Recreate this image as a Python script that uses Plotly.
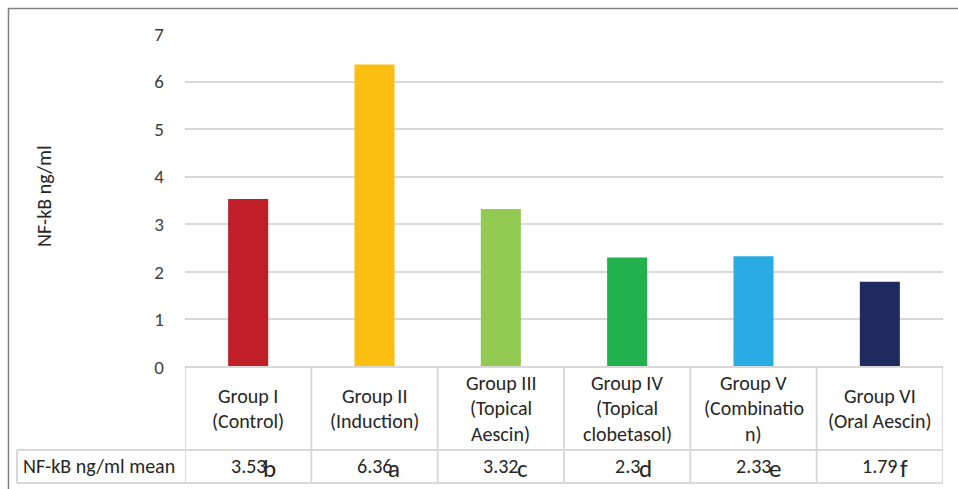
import plotly.graph_objects as go

categories = ["Group I<br>(Control)", "Group II<br>(Induction)", "Group III<br>(Topical<br>Aescin)",
              "Group IV<br>(Topical<br>clobetasol)", "Group V<br>(Combinatio<br>n)", "Group VI<br>(Oral Aescin)"]
values = [3.53, 6.36, 3.32, 2.3, 2.33, 1.79]
letters = ["b", "a", "c", "d", "e", "f"]
colors = ["#C01F28", "#FBBF12", "#92CA52", "#21B04C", "#29ACE3", "#1F2A5E"]
row_label = "NF-kB ng/ml mean"
y_title = "NF-kB ng/ml"
y_ticks = [0, 1, 2, 3, 4, 5, 6, 7]

FONT = "Carlito, Lato, sans-serif"
TXT = "#262626"
GRID = "#D9D9D9"

W, H = 958, 489
L, R, T, B = 185, 943, 34, 367  # plot area pixel box


def px_x(p):
    return (p - L) / (R - L)


def px_y(p):
    return (B - p) / (B - T)


xs = list(range(len(categories)))

fig = go.Figure()
fig.add_trace(go.Bar(x=xs, y=values, marker=dict(color=colors, line=dict(width=0)),
                     hoverinfo="skip"))

shapes = []
# outer frame
shapes.append(dict(type="rect", xref="paper", yref="paper",
                   x0=px_x(8.5), x1=px_x(975), y0=px_y(8.5), y1=px_y(500),
                   line=dict(color="#7F7F7F", width=1.5), layer="below"))
# table lines
tl = dict(color=GRID, width=2)
shapes.append(dict(type="line", xref="x", yref="paper", x0=-0.5, x1=5.5,
                   y0=0, y1=0, line=tl))
shapes.append(dict(type="line", xref="paper", yref="paper", x0=px_x(17), x1=1,
                   y0=px_y(450), y1=px_y(450), line=tl))
shapes.append(dict(type="line", xref="paper", yref="paper", x0=px_x(17), x1=1,
                   y0=px_y(483), y1=px_y(483), line=tl))
shapes.append(dict(type="line", xref="paper", yref="paper", x0=px_x(17), x1=px_x(17),
                   y0=px_y(450), y1=px_y(483), line=tl))
for i in range(len(categories) + 1):
    shapes.append(dict(type="line", xref="x", yref="paper", x0=i - 0.5, x1=i - 0.5,
                       y0=0, y1=px_y(483), line=tl))

annotations = []
for i, cat in enumerate(categories):
    lines = cat.split("<br>")
    n = len(lines)
    for j, ln in enumerate(lines):
        yc = 408.5 + (j - (n - 1) / 2) * 25.5
        annotations.append(dict(x=i, y=px_y(yc), xref="x", yref="paper", text=ln,
                                showarrow=False, xanchor="center", yanchor="middle",
                                font=dict(family=FONT, size=20, color=TXT)))

letter_shift = [21, 19, 22, 18, 21, 24]
for i, (v, lt) in enumerate(zip(values, letters)):
    annotations.append(dict(x=i, y=px_y(466), xref="x", yref="paper", text=str(v),
                            showarrow=False, xanchor="center", yanchor="middle",
                            font=dict(family=FONT, size=20, color=TXT)))
    annotations.append(dict(x=i, y=px_y(468), xref="x", yref="paper", text=lt,
                            showarrow=False, xanchor="center", yanchor="middle",
                            xshift=letter_shift[i],
                            font=dict(family=FONT, size=25, color=TXT)))

annotations.append(dict(x=px_x(21), y=px_y(466), xref="paper", yref="paper", text=row_label,
                        showarrow=False, xanchor="left", yanchor="middle",
                        font=dict(family=FONT, size=20, color=TXT)))
annotations.append(dict(x=px_x(44), y=px_y(196), xref="paper", yref="paper", text=y_title,
                        showarrow=False, xanchor="center", yanchor="middle", textangle=-90,
                        font=dict(family=FONT, size=20, color=TXT)))

fig.update_layout(
    width=W, height=H,
    margin=dict(l=L, r=W - R, t=T, b=H - B, pad=0),
    paper_bgcolor="white", plot_bgcolor="white",
    showlegend=False, bargap=0.683,
    shapes=shapes, annotations=annotations,
    xaxis=dict(range=[-0.5, 5.5], showticklabels=False, showgrid=False, zeroline=False,
               showline=False, ticks=""),
    yaxis=dict(range=[0, 7], tickvals=y_ticks, showgrid=True, gridcolor=GRID, gridwidth=1.5,
               zeroline=False, showline=False, ticks="", ticklabelstandoff=20,
               tickfont=dict(family=FONT, size=19, color="#404040")),
)

fig.write_html("out.html")
